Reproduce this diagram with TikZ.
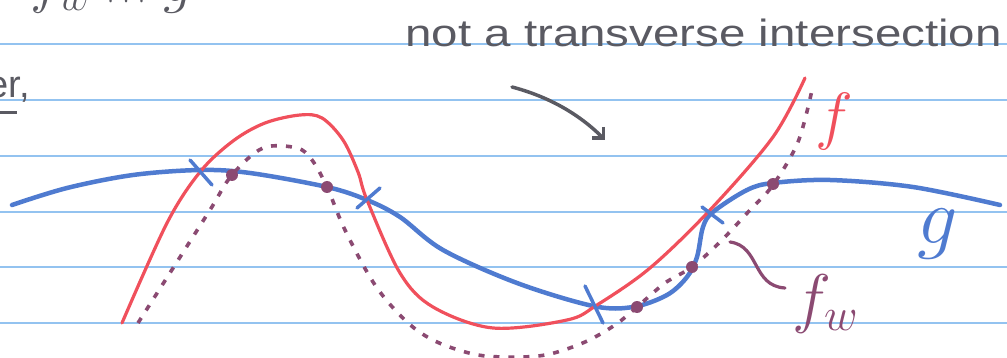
\RequirePackage{fix-cm}
\documentclass[tikz,border=0pt]{standalone}
\usepackage{amssymb}
\usepackage{fontspec}
\setsansfont{Liberation Sans}
\usetikzlibrary{arrows.meta}
\definecolor{paperline}{HTML}{93C3F0}
\definecolor{gblue}{HTML}{4F7BD0}
\definecolor{fred}{HTML}{F0505C}
\definecolor{fwplum}{HTML}{8B4A72}
\definecolor{pencil}{HTML}{5A5A62}

\begin{document}
\begin{tikzpicture}[
  x=1pt,y=-1pt,
  rule/.style={paperline,line width=1.3pt},
  gcurve/.style={gblue,line width=4.5pt,line cap=round,line join=round},
  fcurve/.style={fred,line width=3.2pt,line cap=round},
  fwcurve/.style={fwplum,line width=3.6pt,dash pattern=on 6pt off 9pt},
  cross/.style={gblue,line width=3.5pt,line cap=round},
  touch/.style={circle,fill=fwplum,inner sep=0pt,minimum size=12pt},
  note/.style={pencil,font=\sffamily\fontsize{38}{40}\selectfont},
  arrow/.style={pencil,line width=3.5pt,line cap=round,-{Straight Barb[length=8pt,width=16pt]}}
]
\useasboundingbox (0,0) rectangle (1007,358);
\clip (0,0) rectangle (1007,358);

% ruled paper
\foreach \y in {44,100,156,212,267,323}
  \draw[rule] (0,\y) -- (1007,\y);

% cut-off writing at the edges
\node[pencil,font=\fontsize{60}{62}\selectfont,anchor=base west,inner sep=0pt] (head) at (30,2) {$f_w \pitchfork g$};
\node[note,anchor=base east,inner sep=0pt] (tail) at (30,98) {er,};
\draw[pencil,line width=3pt] (0,113) -- (17,113);

% the three curves
\draw[gcurve] plot[smooth,tension=0.55] coordinates {(12,205) (67,188) (133,175) (200,170) (250,173) (327,187) (367,200) (400,217) (443,250) (517,283) (593,306) (633,307) (667,295) (687,277) (697,257) (703,227) (713,212) (747,190) (773,183) (830,180) (913,187) (1000,205)};
\draw[fcurve] plot[smooth,tension=0.55] coordinates {(122,323) (167,223) (200,172) (233,141) (265,123) (300,115) (322,118) (343,140) (358,172) (367,200) (400,273) (433,307) (493,328) (567,320) (597,305) (650,268) (710,210) (773,137) (805,78)};
\draw[fwcurve] plot[smooth,tension=0.55] coordinates {(138,323) (175,265) (210,210) (232,175) (263,148) (297,148) (312,160) (327,187) (345,230) (375,285) (407,322) (437,342) (478,355) (520,357) (550,354) (585,342) (615,325) (637,307) (665,283) (692,267) (720,242) (750,210) (773,185) (798,142) (812,90)};

% transverse crossings of f and g
\draw[cross] (190,160) -- (212,185);
\draw[cross] (357,208) -- (380,188);
\draw[cross] (585,286) -- (603,323);
\draw[cross] (702,207) -- (723,223);

% touching points of f_w and g
\node[touch] (t1) at (232,175) {};
\node[touch] (t2) at (327,187) {};
\node[touch] (t3) at (637,307) {};
\node[touch] (t4) at (692,267) {};
\node[touch] (t5) at (773,184) {};

% labels
\node[note,anchor=base west,inner sep=0pt] (caption) at (405,47) {\scalebox{1.25}[1]{not a transverse intersection}};
\coordinate (start) at (512,87);
\coordinate (aim) at (605,140);
\draw[arrow] (start) .. controls (550,97) and (580,115) .. (aim);
\node[fred,font=\fontsize{64}{66}\selectfont] (flab) at (834,122) {$f$};
\node[gblue,font=\fontsize{80}{82}\selectfont] (glab) at (938,234) {$g$};
\node[fwplum,font=\fontsize{66}{68}\selectfont,anchor=west,inner sep=0pt] (fwlab) at (792,304) {$f_w$};
\coordinate (fwpt) at (730,242);
\draw[fwplum,line width=3.2pt,line cap=round] (fwpt) .. controls (760,246) and (752,286) .. (785,288);
\end{tikzpicture}
\end{document}
